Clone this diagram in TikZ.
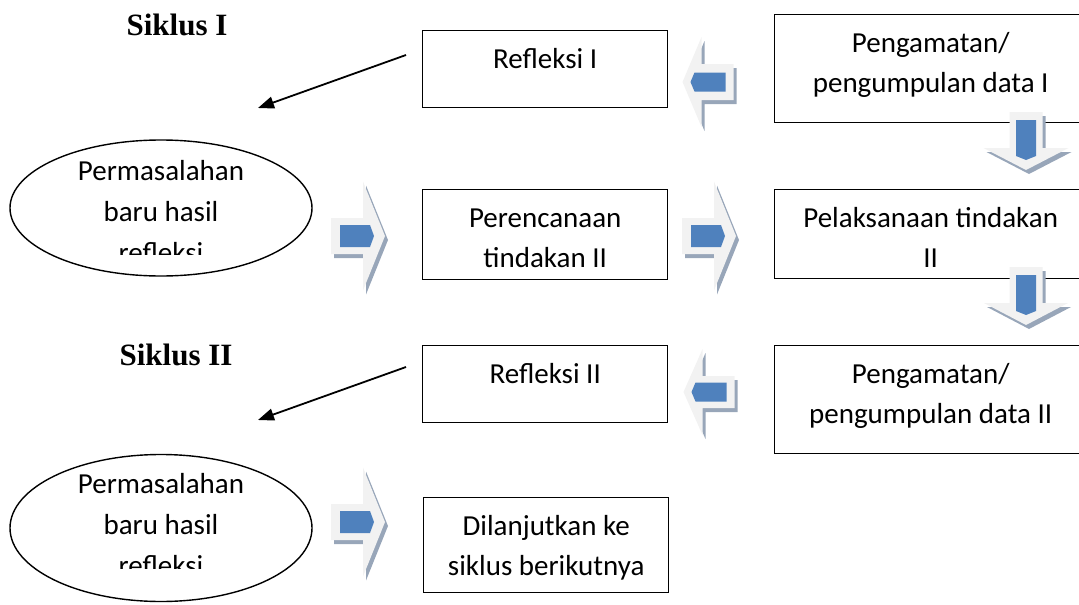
\documentclass[tikz,border=0pt]{standalone}
\usepackage{fontspec}
\setmainfont{Carlito}
\newfontfamily\serifbold{Liberation Serif}
\usepackage{tikz}
\usetikzlibrary{arrows.meta,shapes.geometric}

\definecolor{arrlight}{HTML}{F2F2F2}
\definecolor{arrshade}{HTML}{98A6B9}
\definecolor{arrblue}{HTML}{4F81BD}

\begin{document}
\begin{tikzpicture}[
        x=1pt, y=-1pt,
        box/.style={draw, line width=1.4pt, fill=white, anchor=north west, inner sep=0pt, align=flush center, text width=#1, text height=38pt, font=\fontsize{29}{40}\selectfont},
        blob/.style={draw, ellipse, line width=1.4pt, minimum width=302pt, inner sep=0pt},
        blobtext/.style={align=center, font=\fontsize{29}{41}\selectfont},
        cyclelabel/.style={font=\serifbold\bfseries\fontsize{31}{36}\selectfont},
        arrow/.style={-{Triangle[length=16pt, width=12pt]}, line width=1.8pt},
        pics/arrbody/.style n args={5}{code={
            \fill[#5] (-#1/2,-#3/2) -- (#1/2-#4,-#3/2) -- (#1/2-#4,-#2/2) -- (#1/2,0)
                -- (#1/2-#4,#2/2) -- (#1/2-#4,#3/2) -- (-#1/2,#3/2) -- cycle;
        }},
        pics/arrcore/.style n args={3}{code={
            \fill[arrblue] (#3-#1/2,-#2/2) -- (#3+#1/2-4,-#2/2) -- (#3+#1/2,0)
                -- (#3+#1/2-4,#2/2) -- (#3-#1/2,#2/2) -- cycle;
        }}
    ]
        \useasboundingbox (0,0) rectangle (1079,605);

        \node[cyclelabel] (cycle1) at (177,25) {Siklus I};
        \node[cyclelabel] (cycle2) at (176,355) {Siklus II};

        % boxes
        \node[box=245pt, text depth=39pt] (reflect1) at (422,30) {Refleksi I};
        \node[box=312pt, text depth=70pt] (observe1) at (774,14) {Pengamatan/\\pengumpulan data I};
        \node[box=245pt, text depth=52pt] (plan2) at (422,189) {Perencanaan\\tindakan II};
        \node[box=312pt, text depth=51pt] (act2) at (774,189) {Pelaksanaan tindakan\\II};
        \node[box=245pt, text depth=39pt] (reflect2) at (422,345) {Refleksi II};
        \node[box=312pt, text depth=70pt] (observe2) at (774,345) {Pengamatan/\\pengumpulan data II};
        \node[box=245pt, text depth=57pt] (next) at (423,497) {Dilanjutkan ke\\siklus berikutnya};

        % ellipses, last line cut off
        \node[blob, minimum height=136pt] (issue1) at (161,208) {};
        \node[blob, minimum height=147pt] (issue2) at (161,528) {};
        \begin{scope}
            \clip (0,130) rectangle (330,254);
            \node[blobtext] (issue1text) at (161,212) {Permasalahan\\baru hasil\\refleksi};
        \end{scope}
        \begin{scope}
            \clip (0,440) rectangle (330,568);
            \node[blobtext] (issue2text) at (161,525) {Permasalahan\\baru hasil\\refleksi};
        \end{scope}

        \coordinate (from1) at (406,55);
        \coordinate (to1) at (258,108);
        \coordinate (from2) at (406,367);
        \coordinate (to2) at (258,420);
        \draw[arrow] (from1) -- (to1);
        \draw[arrow] (from2) -- (to2);

        % block arrows: x/y/rotation/length/head/shaft/head length/core length/core width/core shift
        \foreach \ax/\ay/\ar/\al/\aw/\as/\ah/\cl/\cw/\cx in {
            358/236/0/54/109/36/22/34/22/-1,
            709/236/0/54/109/36/22/34/22/-1,
            358/522/0/54/109/36/22/34/22/-1,
            708/82/180/51/90/36/19/35/19/0,
            709/392/180/51/86/32/19/35/19/0,
            1026/141/-90/58/85/33/22/40/20/-1,
            1026/296/-90/58/84/33/22/40/20/-1}
        {
            \pic[shift={(3,4)}, rotate=\ar] at (\ax,\ay) {arrbody={\al}{\aw}{\as}{\ah}{arrshade}};
            \pic[rotate=\ar] at (\ax,\ay) {arrbody={\al}{\aw}{\as}{\ah}{arrlight}};
            \pic[rotate=\ar] at (\ax,\ay) {arrcore={\cl}{\cw}{\cx}};
        }
    \end{tikzpicture}
\end{document}
